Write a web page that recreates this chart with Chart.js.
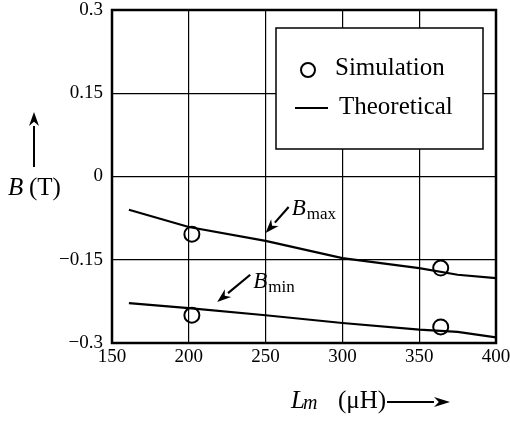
<!DOCTYPE html>
<html>
<head>
<meta charset="utf-8">
<script src="https://cdn.jsdelivr.net/npm/chart.js@4/dist/chart.umd.min.js"></script>
<style>
  html, body { margin: 0; padding: 0; background: #fff; }
  #wrap { width: 510px; height: 421px; position: relative; }
</style>
</head>
<body>
<div id="wrap"><canvas id="c"></canvas></div>
<script>
// B vs Lm – simulation points and theoretical curves

/* ---------------- data ---------------- */
const xTicks = [150, 200, 250, 300, 350, 400];
const yTicks = [-0.3, -0.15, 0, 0.15, 0.3];
const yTickLabels = ['\u22120.3', '\u22120.15', '0', '0.15', '0.3'];

const theoryX    = [161, 200, 250, 300, 350, 375, 400];
const theoryBmax = [-0.060, -0.091, -0.116, -0.147, -0.165, -0.177, -0.183];
const theoryBmin = [-0.228, -0.237, -0.250, -0.264, -0.276, -0.280, -0.290];

const simX    = [202, 364];
const simBmax = [-0.104, -0.165];
const simBmin = [-0.250, -0.271];

const legendLabels = ['Simulation', 'Theoretical'];

const SERIF = '"Liberation Serif", "Times New Roman", serif';

function pts(xs, ys) { return xs.map((x, i) => ({ x: x, y: ys[i] })); }

/* ---------------- helpers ---------------- */
function arrow(ctx, x1, y1, x2, y2, headLen, headW) {
  const a = Math.atan2(y2 - y1, x2 - x1);
  const bx = x2 - headLen * Math.cos(a), by = y2 - headLen * Math.sin(a);
  ctx.beginPath();
  ctx.moveTo(x1, y1);
  ctx.lineTo(bx, by);
  ctx.stroke();
  ctx.beginPath();
  ctx.moveTo(x2, y2);
  ctx.lineTo(bx + headW * Math.sin(a), by - headW * Math.cos(a));
  ctx.lineTo(bx + headLen * 0.3 * Math.cos(a), by + headLen * 0.3 * Math.sin(a));
  ctx.lineTo(bx - headW * Math.sin(a), by + headW * Math.cos(a));
  ctx.closePath();
  ctx.fill();
}

function subLabel(ctx, x, y, main, sub, mainSize, subSize) {
  ctx.font = 'italic ' + mainSize + 'px ' + SERIF;
  ctx.fillText(main, x, y);
  const w = ctx.measureText(main).width;
  ctx.font = subSize + 'px ' + SERIF;
  ctx.fillText(sub, x + w + 1, y + 4);
}

/* ---------------- decorations plugin ---------------- */
const decorations = {
  id: 'decorations',
  afterDatasetsDraw(chart) {
    const ctx = chart.ctx;
    const a = chart.chartArea;
    const xs = chart.scales.x, ys = chart.scales.y;
    ctx.save();
    ctx.strokeStyle = '#000';
    ctx.fillStyle = '#000';
    ctx.textBaseline = 'alphabetic';
    ctx.textAlign = 'left';

    // frame
    ctx.lineWidth = 2.5;
    ctx.strokeRect(a.left, a.top, a.right - a.left, a.bottom - a.top);

    // legend box
    const lx = a.left + 164, ly = a.top + 18, lw = 207, lh = 121;
    ctx.fillStyle = '#fff';
    ctx.fillRect(lx, ly, lw, lh);
    ctx.lineWidth = 1.5;
    ctx.strokeRect(lx, ly, lw, lh);
    ctx.fillStyle = '#000';
    ctx.lineWidth = 2;
    ctx.beginPath();
    ctx.arc(lx + 32, ly + 42, 7, 0, Math.PI * 2);
    ctx.stroke();
    ctx.beginPath();
    ctx.moveTo(lx + 19, ly + 80);
    ctx.lineTo(lx + 52, ly + 80);
    ctx.stroke();
    ctx.font = '25px ' + SERIF;
    ctx.fillText(legendLabels[0], lx + 59, ly + 47);
    ctx.fillText(legendLabels[1], lx + 63, ly + 86);

    // curve annotations (anchored in data units)
    ctx.lineWidth = 2.2;
    arrow(ctx, xs.getPixelForValue(265), ys.getPixelForValue(-0.055),
               xs.getPixelForValue(250), ys.getPixelForValue(-0.102), 14, 5);
    subLabel(ctx, xs.getPixelForValue(267), ys.getPixelForValue(-0.070), 'B', 'max', 23, 17);
    arrow(ctx, xs.getPixelForValue(240), ys.getPixelForValue(-0.177),
               xs.getPixelForValue(218.5), ys.getPixelForValue(-0.226), 14, 5);
    subLabel(ctx, xs.getPixelForValue(242), ys.getPixelForValue(-0.201), 'B', 'min', 23, 17);

    // y axis title with arrow
    ctx.font = 'italic 25px ' + SERIF;
    ctx.fillText('B', a.left - 104, a.top + 185);
    ctx.font = '25px ' + SERIF;
    ctx.fillText('(T)', a.left - 83, a.top + 185);
    ctx.lineWidth = 2;
    arrow(ctx, a.left - 78, a.top + 157, a.left - 78, a.top + 102, 14, 5);

    // x axis title with arrow
    const bx = a.left + 179, by = a.bottom + 65;
    ctx.font = 'italic 25px ' + SERIF;
    ctx.fillText('L', bx, by);
    const lw2 = ctx.measureText('L').width;
    ctx.font = 'italic 20px ' + SERIF;
    ctx.fillText('m', bx + lw2 - 2, by + 1);
    ctx.font = '25px ' + SERIF;
    ctx.fillText('(\u03bcH)', bx + 47, by);
    arrow(ctx, bx + 96, by - 6, bx + 159, by - 6, 16, 5);

    ctx.restore();
  }
};

/* ---------------- chart ---------------- */
const lineStyle = { showLine: true, borderColor: '#000', borderWidth: 2.2, pointRadius: 0, tension: 0 };
const pointStyle = { showLine: false, pointStyle: 'circle', pointRadius: 7.5, pointBorderWidth: 2,
                     borderColor: '#000', pointBackgroundColor: 'rgba(0,0,0,0)' };

new Chart(document.getElementById('c'), {
  type: 'scatter',
  data: {
    datasets: [
      Object.assign({ label: 'Theoretical Bmax', data: pts(theoryX, theoryBmax) }, lineStyle),
      Object.assign({ label: 'Theoretical Bmin', data: pts(theoryX, theoryBmin) }, lineStyle),
      Object.assign({ label: 'Simulation Bmax', data: pts(simX, simBmax) }, pointStyle),
      Object.assign({ label: 'Simulation Bmin', data: pts(simX, simBmin) }, pointStyle)
    ]
  },
  options: {
    responsive: true,
    maintainAspectRatio: false,
    animation: false,
    layout: { padding: { left: 0, top: 10, right: 14, bottom: 0 } },
    plugins: { legend: { display: false }, tooltip: { enabled: false } },
    scales: {
      x: {
        type: 'linear', min: 150, max: 400,
        afterBuildTicks: s => { s.ticks = xTicks.map(v => ({ value: v })); },
        afterFit: s => { s.height = 78; s.paddingLeft = 0; s.paddingRight = 0; },
        grid: { color: '#000', lineWidth: 1.2, drawTicks: false },
        border: { display: false },
        ticks: { color: '#000', padding: 3, maxRotation: 0, font: { family: SERIF, size: 19 } }
      },
      y: {
        type: 'linear', min: -0.3, max: 0.3,
        afterBuildTicks: s => { s.ticks = yTicks.map(v => ({ value: v })); },
        afterFit: s => { s.width = 112; s.paddingTop = 0; s.paddingBottom = 0; },
        grid: { color: '#000', lineWidth: 1.2, drawTicks: false },
        border: { display: false },
        ticks: {
          color: '#000', padding: 9, font: { family: SERIF, size: 19 },
          callback: (v, i) => yTickLabels[i]
        }
      }
    }
  },
  plugins: [decorations]
});
</script>
</body>
</html>
